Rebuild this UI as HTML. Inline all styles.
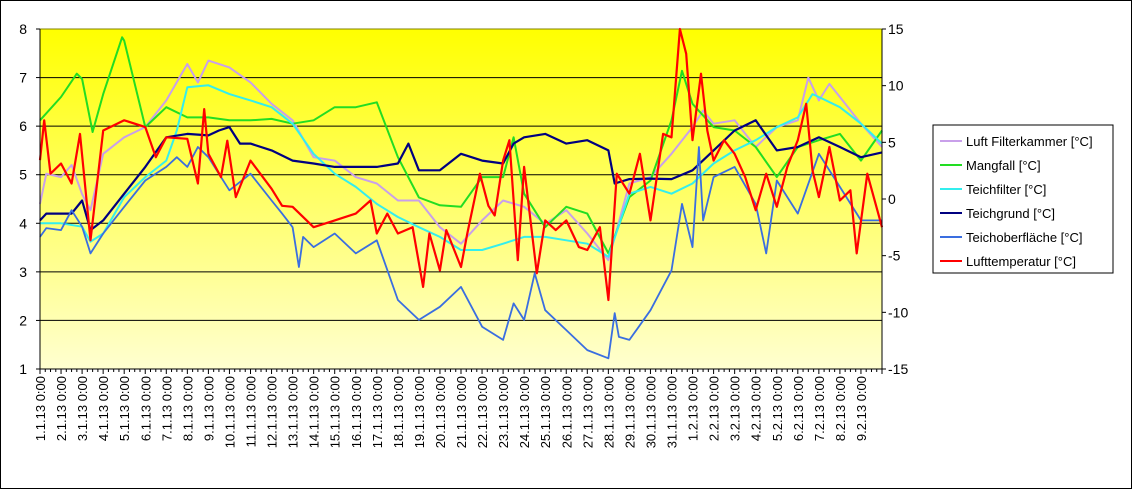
<!DOCTYPE html>
<html><head><meta charset="utf-8">
<style>
body{margin:0;background:#fff;}
svg{display:block;font-family:"Liberation Sans",Arial,sans-serif;}
</style></head>
<body>
<svg id="chart" width="1132" height="489" viewBox="0 0 1132 489">
<defs><linearGradient id="bg" x1="0" y1="0" x2="0" y2="1"><stop offset="0" stop-color="#ffff00"/><stop offset="1" stop-color="#ffffd0"/></linearGradient></defs>
<rect x="0.5" y="0.5" width="1131" height="488" fill="#fff" stroke="#000"/>
<rect x="40" y="29" width="842" height="340" fill="url(#bg)"/>
<g id="grid"></g><g id="series"></g><g id="axes"></g>
<g>
<rect x="933" y="125" width="180" height="148" fill="#fff" stroke="#000"/>
<g id="legend"></g>
</g>
</svg>
<script>
const xLabels=[];for(let d=1;d<=31;d++)xLabels.push(d+".1.13 0:00");for(let d=1;d<=9;d++)xLabels.push(d+".2.13 0:00");
const leftTicks=[1,2,3,4,5,6,7,8];
const rightTicks=[-15,-10,-5,0,5,10,15];
const seriesNames=["Luft Filterkammer [°C]","Mangfall [°C]","Teichfilter [°C]","Teichgrund [°C]","Teichoberfläche [°C]","Lufttemperatur [°C]"];
const lilacDays=[0,0.3,1,1.5,2,2.4,3,4,5,6,7,7.5,8,9,10,11,12,13,14,15,16,17,18,19,20,21,22,23,24,25,26,27,28,29,30,31,31.5,32,33,34,35,36,36.5,37,37.5,38,39,40];
const lilacVals=[4.40,5.02,4.95,5.2,4.6,4.27,5.43,5.77,5.98,6.53,7.28,6.90,7.35,7.21,6.90,6.46,6.12,5.36,5.29,4.95,4.82,4.47,4.47,3.92,3.58,4.06,4.47,4.34,3.99,4.27,3.79,3.24,4.82,4.95,5.43,5.98,6.32,6.05,6.12,5.57,5.98,6.12,7.0,6.53,6.87,6.60,6.05,5.57];
const greenDays=[0,1,1.75,2,2.5,3,3.9,4,5,6,7,8,9,10,11,12,13,14,15,16,17,18,19,20,21,22,22.5,23,24,25,26,27,28,29,30,30.5,31,32,33,34,35,36,37,38,39,40];
const greenVals=[6.12,6.60,7.08,6.97,5.88,6.66,7.83,7.76,5.98,6.39,6.18,6.18,6.12,6.12,6.15,6.05,6.12,6.39,6.39,6.49,5.36,4.53,4.37,4.34,4.95,4.95,5.77,4.61,3.92,4.34,4.20,3.38,4.54,4.88,6.12,7.14,6.46,5.98,5.91,5.57,4.95,5.57,5.71,5.84,5.29,5.91];
const cyanDays=[0,1,2,2.4,3,4,5,6,6.5,7,8,9,10,11,12,13,14,15,16,17,18,19,20,21,22,23,24,25,26,27,28,29,30,31,32,33,34,35,36,36.7,37,38,39,40];
const cyanVals=[4.0,4.0,3.93,3.62,3.79,4.54,4.95,5.29,5.91,6.80,6.84,6.66,6.53,6.39,6.05,5.43,5.02,4.75,4.40,4.13,3.92,3.72,3.45,3.45,3.58,3.72,3.72,3.65,3.58,3.31,4.61,4.75,4.61,4.82,5.23,5.50,5.71,5.98,6.18,6.66,6.60,6.39,6.05,5.64];
const navyDays=[0,0.3,1,1.5,2,2.4,3,4,5,6,7,8,8.5,9,9.5,10,11,12,13,14,15,16,17,17.5,18,19,20,21,22,22.5,23,24,25,26,27,27.3,28,29,30,31,32,33,34,35,36,37,38,39,40];
const navyVals=[4.06,4.2,4.2,4.2,4.47,3.86,4.06,4.61,5.16,5.77,5.84,5.81,5.91,5.98,5.64,5.64,5.50,5.29,5.23,5.16,5.16,5.16,5.23,5.64,5.09,5.09,5.43,5.29,5.23,5.64,5.77,5.84,5.64,5.71,5.50,4.82,4.91,4.92,4.91,5.09,5.50,5.91,6.12,5.50,5.57,5.77,5.57,5.36,5.46];
const blueDays=[0,0.3,1,1.5,2,2.4,3,4,5,6,6.5,7,7.5,8,9,10,11,11.5,12,12.3,12.5,13,14,15,16,17,18,19,20,21,22,22.5,23,23.5,24,25,26,27,27.3,27.5,28,29,30,30.5,31,31.3,31.5,32,33,34,34.5,35,36,37,38,39,40];
const blueVals=[3.72,3.9,3.86,4.27,3.93,3.38,3.79,4.34,4.88,5.16,5.36,5.16,5.57,5.36,4.68,5.02,4.47,4.2,3.92,3.10,3.72,3.51,3.79,3.38,3.65,2.42,2.01,2.28,2.69,1.87,1.60,2.35,2.01,2.97,2.21,1.80,1.39,1.22,2.15,1.66,1.60,2.21,3.03,4.40,3.51,5.57,4.06,4.95,5.16,4.40,3.38,4.88,4.20,5.43,4.75,4.06,4.06];
const redDays=[0,0.2,0.5,1,1.5,1.9,2.4,3,4,5,5.5,6,7,7.5,7.8,8,8.6,8.9,9.3,10,11,11.5,12,13,14,15,15.7,16,16.5,17,17.7,18.2,18.5,19,19.3,20,20.3,20.9,21.3,21.6,22,22.3,22.7,23,23.6,24,24.5,25,25.6,26,26.6,27,27.4,28,28.5,29,29.6,30,30.4,30.7,31,31.4,31.7,32,32.5,33,33.5,34,34.5,35,35.5,36,36.4,36.7,37,37.5,38,38.5,38.8,39.3,40];
const redVals=[5.30,6.12,5.02,5.23,4.82,5.84,3.65,5.91,6.12,5.98,5.36,5.77,5.74,4.82,6.35,5.43,4.95,5.70,4.54,5.29,4.71,4.36,4.34,3.92,4.06,4.20,4.47,3.79,4.20,3.79,3.92,2.69,3.79,3.03,3.86,3.10,3.79,5.02,4.36,4.16,5.29,5.71,3.24,5.16,2.97,4.06,3.86,4.06,3.51,3.45,3.92,2.42,5.02,4.61,5.43,4.06,5.84,5.77,8.0,7.49,5.71,7.08,5.91,5.29,5.71,5.43,4.95,4.27,5.02,4.34,5.16,5.71,6.46,5.09,4.54,5.57,4.47,4.68,3.38,5.02,3.92];
const colors=["#c9a0ea","#22dd22","#33eeee","#000080","#3a6ee0","#ff0000"];
const widths=[2,2,2,2.2,1.8,2.2];
const X0=40,X1=882,Y0=29,Y1=369;
const xs=d=>X0+d*(X1-X0)/40;
const yl=v=>Y1-(v-1)*(Y1-Y0)/7;
const yr=t=>Y1-(t+15)*(Y1-Y0)/30;
const NS="http://www.w3.org/2000/svg";
function mk(tag,attrs,parent){const e=document.createElementNS(NS,tag);for(const k in attrs)e.setAttribute(k,attrs[k]);parent.appendChild(e);return e;}
const grid=document.getElementById('grid'),axes=document.getElementById('axes'),ser=document.getElementById('series'),leg=document.getElementById('legend');
leftTicks.forEach(v=>{
  if(v>1){const l=mk('line',{x1:X0,x2:X1,y1:yl(v),y2:yl(v),stroke:v==8?'#808000':'#000','stroke-width':1},grid);
  
  }
  const t=mk('text',{x:27,y:yl(v)+5,'text-anchor':'end','font-size':14},axes);t.textContent=v;
  
  
  mk('line',{x1:X0-4,x2:X0,y1:yl(v),y2:yl(v),stroke:'#000'},axes);
});
rightTicks.forEach(v=>{
  const t=mk('text',{x:888,y:yr(v)+5,'font-size':14},axes);t.textContent=v;
  
  
  mk('line',{x1:X1,x2:X1+4,y1:yr(v),y2:yr(v),stroke:'#000'},axes);
});
mk('line',{x1:X0,x2:X0,y1:Y0,y2:Y1,stroke:'#000'},axes);
mk('line',{x1:X1,x2:X1,y1:Y0,y2:Y1,stroke:'#000'},axes);
mk('line',{x1:X0,x2:X1,y1:Y1,y2:Y1,stroke:'#000'},axes);
for(let i=0;i<=160;i++){mk('line',{x1:xs(i/4),x2:xs(i/4),y1:Y1,y2:Y1+(i%4?3:5),stroke:'#000'},axes);}
xLabels.forEach((s,i)=>{
  const t=mk('text',{transform:`translate(${xs(i)+5},376) rotate(-90)`,'text-anchor':'end','font-size':13},axes);t.textContent=s;
  
  
});
const all=[[lilacDays,lilacVals],[greenDays,greenVals],[cyanDays,cyanVals],[navyDays,navyVals],[blueDays,blueVals],[redDays,redVals]];
all.forEach((s,k)=>{
  const pts=s[0].map((d,i)=>xs(d).toFixed(1)+','+yl(s[1][i]).toFixed(1)).join(' ');
  const p=mk('polyline',{points:pts,fill:'none',stroke:colors[k],'stroke-width':widths[k],'stroke-linejoin':'round'},ser);
  
  
  const y=141+k*24;
  mk('line',{x1:940,x2:962,y1:y,y2:y,stroke:colors[k],'stroke-width':2},leg);
  const t=mk('text',{x:966,y:y+5,'font-size':13},leg);t.textContent=seriesNames[k];
  
  
});
</script>
</body></html>
